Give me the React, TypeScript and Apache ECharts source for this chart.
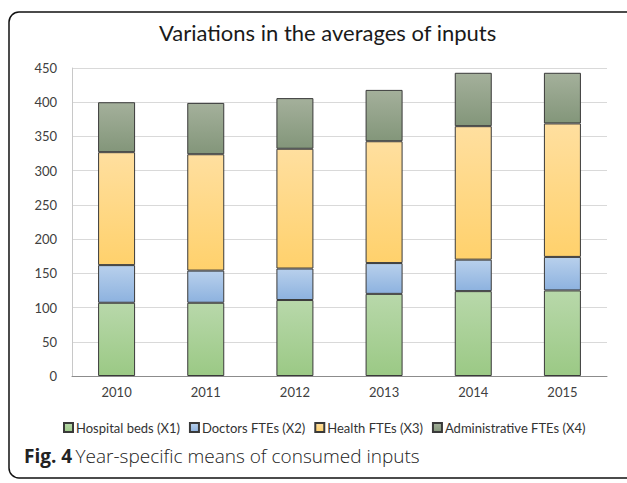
import React, { useEffect, useRef } from "react";
import * as echarts from "echarts";

const years = ["2010", "2011", "2012", "2013", "2014", "2015"];
const hospitalBeds = [107, 107, 111, 120, 124, 125];
const doctorsFTEs = [55, 47, 46, 45, 46, 49];
const healthFTEs = [165, 170, 175, 178, 195, 195];
const adminFTEs = [73, 75, 74, 75, 78, 74];

const seriesNames = [
  "Hospital beds (X1)",
  "Doctors FTEs (X2)",
  "Health FTEs (X3)",
  "Administrative FTEs (X4)",
];
const seriesColors: [string, string][] = [
  ["#b8d8aa", "#9bc985"],
  ["#b8d0ec", "#8db2df"],
  ["#ffdf9f", "#ffd16c"],
  ["#a4b09b", "#83967a"],
];

const FONT = "Lato, 'Open Sans', sans-serif";
const CAP_FONT = "'Open Sans', Lato, sans-serif";

function grad(c: [string, string]) {
  return new echarts.graphic.LinearGradient(0, 0, 0, 1, [
    { offset: 0, color: c[0] },
    { offset: 1, color: c[1] },
  ]);
}

export default function App() {
  const ref = useRef<HTMLDivElement>(null);
  useEffect(() => {
    if (!ref.current) return;
    const chart = echarts.init(ref.current, null, { renderer: "svg" });
    const data = [hospitalBeds, doctorsFTEs, healthFTEs, adminFTEs];
    chart.setOption({
      animation: false,
      backgroundColor: "#ffffff",
      textStyle: { fontFamily: FONT },
      title: {
        text: "Variations in the averages of inputs",
        left: 154,
        top: 16,
        textStyle: { fontFamily: FONT, fontSize: 22, fontWeight: "normal", color: "#1a1a1a" },
      },
      legend: {
        bottom: 44,
        left: 58,
        itemWidth: 9,
        itemHeight: 9,
        itemGap: 9,
        icon: "rect",
        textStyle: { fontFamily: FONT, fontSize: 13, color: "#333333", padding: [0, 0, 0, -2] },
        data: seriesNames,
      },
      grid: { left: 72, right: 20, top: 68, bottom: 107 },
      xAxis: {
        type: "category",
        data: years,
        axisLine: { lineStyle: { color: "#8c8c8c", width: 1 } },
        axisTick: { show: false },
        axisLabel: { fontFamily: FONT, fontSize: 13, color: "#404040", margin: 9 },
      },
      yAxis: {
        type: "value",
        min: 0,
        max: 450,
        interval: 50,
        axisLine: { show: true, lineStyle: { color: "#c8c8c8" } },
        axisTick: { show: false },
        axisLabel: { fontFamily: FONT, fontSize: 13, color: "#404040", margin: 15 },
        splitLine: { lineStyle: { color: "#d9d9d9", width: 1 } },
      },
      series: data.map((d, i) => ({
        name: seriesNames[i],
        type: "bar",
        stack: "total",
        barWidth: 37,
        data: d,
        itemStyle: {
          color: grad(seriesColors[i]),
          borderColor: "#3a3a3a",
          borderWidth: 1,
        },
      })),
      graphic: [
        {
          type: "rect",
          shape: { x: 9, y: 12, width: 660, height: 466, r: 10 },
          style: { fill: "none", stroke: "#111", lineWidth: 1.5 },
          silent: true,
        },
        {
          type: "text",
          left: 24,
          top: 446,
          style: {
            rich: {
              b: { fontFamily: CAP_FONT, fontSize: 19, fontWeight: "bold", fill: "#222" },
              n: { fontFamily: CAP_FONT, fontSize: 19, fontWeight: 300, fill: "#222" },
            },
            text: "{b|Fig. 4} {n|Year-specific means of consumed inputs}",
          },
        },
      ],
    });
    return () => chart.dispose();
  }, []);
  return (
    <div
      ref={ref}
      style={{ position: "fixed", left: 0, top: 0, width: 627, height: 483 }}
    />
  );
}
